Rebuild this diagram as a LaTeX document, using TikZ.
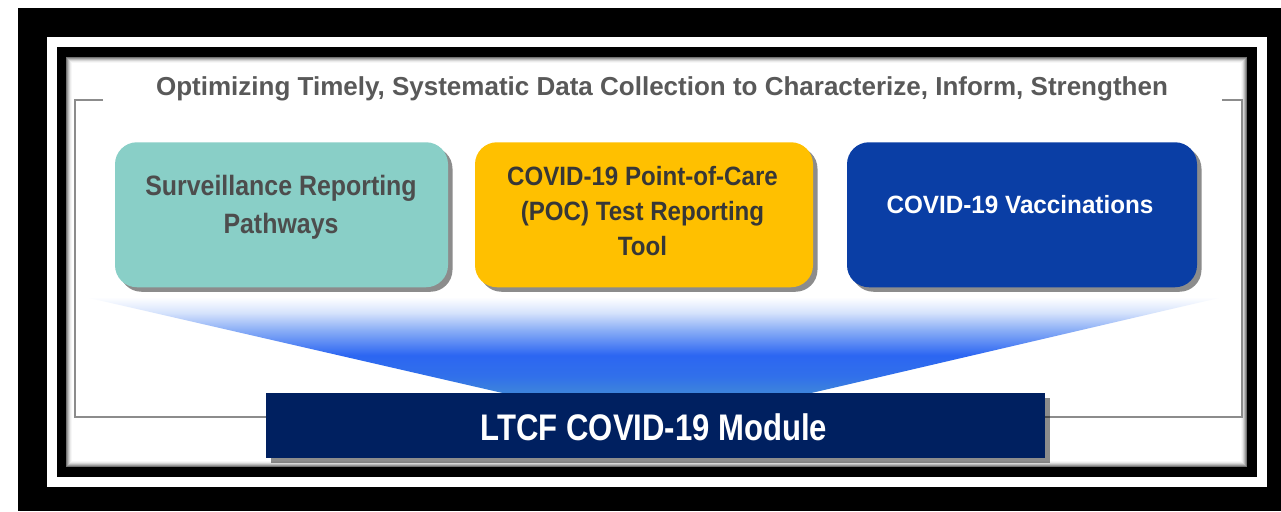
\documentclass[tikz,border=0pt]{standalone}
\usepackage{fontspec}
\setmainfont{Liberation Sans}
\newfontfamily\survfont[FakeStretch=0.89]{Liberation Sans}
\newfontfamily\pocfont[FakeStretch=0.91]{Liberation Sans}
\newfontfamily\vacfont[FakeStretch=0.97]{Liberation Sans}
\newfontfamily\modfont[FakeStretch=0.84]{Liberation Sans}
\usetikzlibrary{shadows}

\definecolor{tealcard}{RGB}{137,207,199}
\definecolor{ambercard}{RGB}{255,192,0}
\definecolor{bluecard}{RGB}{10,62,165}
\definecolor{navybar}{RGB}{0,32,96}
\definecolor{titlegray}{RGB}{89,89,89}
\definecolor{tealtext}{RGB}{77,77,77}
\definecolor{ambertext}{RGB}{55,55,55}
\definecolor{bracketgray}{RGB}{140,140,140}
\definecolor{fbot}{RGB}{62,134,218}
\definecolor{fdeep}{RGB}{49,112,234}
\definecolor{fmid}{RGB}{44,102,242}
\definecolor{flite}{RGB}{138,174,246}
\definecolor{fpale}{RGB}{214,227,252}

% funnel colour ramp, bottom (0bp) to top (100bp); 25bp..75bp is what is seen
\pgfdeclareverticalshading{funnelshade}{100bp}{color(0bp)=(fbot); color(25bp)=(fbot); color(34bp)=(fdeep); color(45bp)=(fmid); color(58bp)=(flite); color(67bp)=(fpale); color(75bp)=(white); color(100bp)=(white)}

\begin{document}
\begin{tikzpicture}[x=0.5pt,y=-0.5pt,
  card/.style={rounded corners=11pt, minimum height=72.5pt, inner sep=0pt,
    drop shadow={shadow xshift=2.25pt, shadow yshift=-2.25pt, fill=black, opacity=0.45}},
  cardtext/.style={inner sep=0pt, align=center, anchor=north},
  modbar/.style={inner sep=0pt, fill=navybar, minimum width=389.5pt, minimum height=32.5pt,
    drop shadow={shadow xshift=2.5pt, shadow yshift=-2.5pt, fill=black, opacity=0.45}},
]
\useasboundingbox (0,0) rectangle (1281,511);
\fill[white] (0,0) rectangle (1281,511);

% double black frame
\fill[black] (18,8) rectangle (1281,511);
\fill[white] (47,37) rectangle (1267,487);
\fill[black] (57,47) rectangle (1257,477);
\fill[white] (66,57) rectangle (1247,467);
% soft inner shadow along the panel edge
\foreach \i/\o in {0.5/0.55,1.5/0.40,2.5/0.27,3.5/0.16,4.5/0.08,5.5/0.03}
  \draw[black, opacity=\o, line width=0.5pt] ({66+\i},{57+\i}) rectangle ({1247-\i},{467-\i});

% open-topped bracket
\draw[bracketgray, line width=1pt] (103,100) -- (75,100) -- (75,417) -- (1242,417) -- (1242,100) -- (1222,100);

% heading
\node[anchor=base, inner sep=0pt, text=titlegray, font=\bfseries\fontsize{13pt}{15.6pt}\selectfont] (title) at (662,95)
  {Optimizing Timely, Systematic Data Collection to Characterize, Inform, Strengthen};

% blue funnel
\shade[shading=funnelshade] (85,297) -- (1223,297) -- (807,394) -- (507,394) -- cycle;

% three source cards
\node[card, fill=tealcard, minimum width=166.5pt] (surv) at (281.5,214.75) {};
\node[card, fill=ambercard, minimum width=169pt] (poc) at (644,214.75) {};
\node[card, fill=bluecard, minimum width=175pt] (vac) at (1022,214.75) {};

\node[cardtext, text=tealtext, font=\survfont\bfseries\fontsize{14pt}{19pt}\selectfont] (survtext) at (281,174.5)
  {Surveillance Reporting\\Pathways};
\node[cardtext, text=ambertext, font=\pocfont\bfseries\fontsize{13.25pt}{17.5pt}\selectfont] (poctext) at (642.5,166)
  {COVID-19 Point-of-Care\\(POC) Test Reporting\\Tool};
\node[anchor=base, inner sep=0pt, text=white, font=\vacfont\bfseries\fontsize{12.5pt}{15pt}\selectfont] (vactext) at (1020,213)
  {COVID-19 Vaccinations};

% module bar
\node[modbar] (module) at (655.5,425.5) {};
\node[anchor=base, inner sep=0pt, text=white, font=\modfont\bfseries\fontsize{18.5pt}{22pt}\selectfont] (modtext) at (654,440)
  {LTCF COVID-19 Module};
\end{tikzpicture}
\end{document}
